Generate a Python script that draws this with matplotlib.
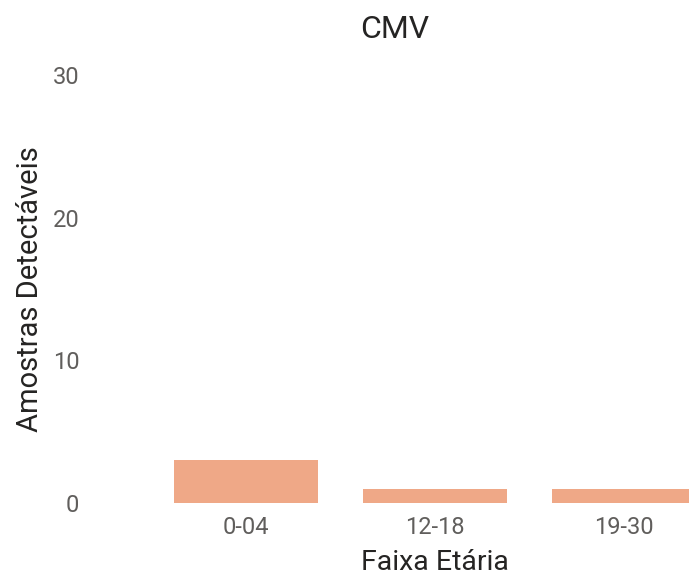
import matplotlib
matplotlib.use('Agg')
from matplotlib import pyplot as plt

faixas = ['0-04', '12-18', '19-30']
amostras = [3, 1, 1]
yticks = [0, 10, 20, 30]

bar_color = '#EFA887'
tick_color = '#605E5C'
text_color = '#252423'

plt.rcParams['font.family'] = ['Roboto', 'DejaVu Sans']

W, H = 689, 578
fig = plt.figure(figsize=(W / 100, H / 100), dpi=100)
# plot area runs a bit past the right edge, like the original visual
ax = fig.add_axes([151.5 / W, (H - 503) / H, 567 / W, 428 / H])

x = range(len(faixas))
ax.bar(x, amostras, width=0.762, color=bar_color)

ax.set_xlim(-0.5, 2.5)
ax.set_ylim(0, 30)
ax.set_xticks(list(x))
ax.set_xticklabels(faixas)
ax.set_yticks(yticks)
ax.set_yticklabels([str(v) for v in yticks])

ax.tick_params(axis='both', length=0, labelsize=17, colors=tick_color)
ax.tick_params(axis='y', pad=52)
ax.tick_params(axis='x', pad=9)
for s in ax.spines.values():
    s.set_visible(False)

ax.set_xlabel('Faixa Etária', fontsize=20.5, color=text_color)
ax.xaxis.set_label_coords(0.5, -(563 - 503) / 428)
ax.xaxis.label.set_va('center')
ax.set_ylabel('Amostras Detectáveis', fontsize=21, color=text_color)
ax.yaxis.set_label_coords((30 - 151.5) / 567, 0.5)
ax.yaxis.label.set_va('center')

fig.text(395 / W, 1 - 30 / H, 'CMV', fontsize=23, color=text_color,
         ha='center', va='center')

fig.savefig('out.png', dpi=100)
